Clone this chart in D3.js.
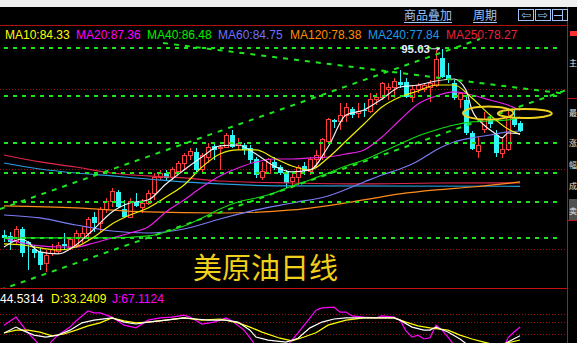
<!DOCTYPE html>
<html>
<head>
<meta charset="utf-8">
<script src="https://cdn.jsdelivr.net/npm/d3@7"></script>
<style>
  body { margin: 0; background: #000; overflow: hidden; }
  text { font-family: "Liberation Sans", Arial, sans-serif; }
</style>
</head>
<body>
<svg id="chart" width="577" height="343"></svg>
<script>
// daily candles, [open, high, low, close]
const candles = [
  [71.75,72.38,70.88,71.38],[71.63,72.13,69.88,70.88],[70.88,72.88,70.63,72.5],[72.5,72.75,69.0,69.5],
  [70.88,70.95,67.38,70.63],[70.0,70.5,68.88,69.5],[69.63,70.13,67.38,68.0],[68.13,69.88,67.13,69.25],
  [69.5,70.63,69.13,69.88],[69.63,70.88,69.38,70.5],[70.63,72.0,69.88,70.38],[70.13,71.5,69.88,71.13],
  [70.38,72.38,70.13,72.0],[71.38,72.75,70.75,72.0],[72.0,74.0,71.13,73.75],[74.0,74.63,72.13,73.25],
  [73.25,75.25,72.13,74.88],[74.88,76.38,74.5,75.88],[75.88,77.63,75.25,77.25],[77.13,77.38,75.13,75.25],
  [75.0,76.13,73.88,74.0],[74.0,76.38,73.88,75.88],[75.88,77.0,75.25,75.38],[75.25,76.25,74.5,75.75],
  [75.63,77.38,75.5,77.0],[77.0,79.5,76.13,78.88],[78.88,79.88,78.63,79.5],[79.5,79.88,78.63,78.88],
  [78.88,80.25,78.63,79.88],[79.63,81.0,79.38,80.75],[80.75,82.0,79.88,81.75],[81.63,82.63,81.13,82.25],
  [82.13,82.63,79.5,79.88],[79.88,82.0,79.5,81.75],[81.38,83.25,80.75,82.63],[82.88,83.38,81.13,82.38],
  [82.56,83.0,79.88,82.75],[82.75,84.5,82.63,84.25],[84.25,84.88,82.63,82.75],[82.88,83.88,82.38,83.25],
  [83.0,83.25,81.75,82.38],[82.63,83.0,80.75,81.13],[81.25,81.5,78.88,79.25],[79.0,80.88,78.63,79.63],
  [79.5,81.38,79.38,81.13],[80.88,81.5,79.88,80.13],[80.25,80.5,79.25,79.5],[79.63,79.88,77.63,78.25],
  [78.38,79.5,77.63,79.0],[79.0,80.5,78.0,80.25],[80.38,80.88,79.25,79.75],[79.75,81.5,79.25,81.25],
  [81.13,82.38,80.25,81.75],[81.5,83.88,81.13,83.63],[83.5,86.38,83.38,86.13],[86.13,86.2,85.13,85.88],
  [85.88,88.25,84.88,86.75],[86.75,88.25,85.88,87.63],[87.5,87.75,86.38,86.75],[87.0,88.25,86.38,87.25],
  [87.38,88.25,86.5,87.25],[87.13,89.5,87.0,88.63],[88.63,89.5,88.0,89.0],[89.0,90.88,88.63,90.63],
  [89.88,90.75,88.63,90.25],[90.13,91.38,88.88,91.0],[90.88,92.38,90.13,90.5],[90.88,91.38,88.88,89.0],
  [89.0,90.5,88.38,89.88],[89.88,90.75,89.5,90.5],[89.88,90.75,89.63,90.5],[90.13,91.13,88.38,90.63],
  [90.5,94.88,90.25,93.63],[93.88,95.03,91.38,91.5],[91.75,93.25,90.75,91.13],[90.75,91.13,88.63,88.88],
  [88.63,89.63,87.63,89.5],[88.63,89.0,84.25,84.5],[84.5,84.75,82.38,82.5],[82.25,84.0,81.38,82.88],
  [84.88,87.13,84.5,86.13],[86.13,86.75,85.13,85.63],[84.25,84.88,81.5,82.0],[81.88,83.88,81.38,82.5],
  [82.38,87.38,82.25,86.38],[86.38,87.38,85.25,85.5],[85.75,86.0,84.63,84.75]
];

// moving averages, [bar index, value]
const ma5 = [[0,70.25],[3,71.25],[6,69.63],[9,69.38],[12,70.5],[15,72.5],[18,74.63],[21,75.75],[24,76.13],[27,78.13],
  [30,79.88],[33,81.5],[36,82.88],[39,83.0],[42,81.88],[45,80.38],[48,79.63],[51,79.88],[54,82.75],[57,86.75],
  [60,87.38],[63,88.75],[66,90.25],[69,90.5],[72,91.0],[75,91.25],[77,89.88],[78,87.38],[80,85.5],[82,84.38],
  [83,83.88],[84,84.5],[86,84.38]];
const ma10 = [[0,70.63],[3,70.5],[6,70.13],[9,69.88],[12,70.25],[15,71.5],[18,73.13],[21,74.25],[24,75.13],[27,76.5],
  [30,78.0],[33,80.25],[36,81.88],[39,82.38],[42,82.38],[45,81.38],[48,80.38],[51,79.88],[54,81.38],[57,83.5],
  [60,85.63],[63,87.75],[66,89.0],[69,89.75],[72,90.5],[75,90.5],[78,88.88],[81,86.75],[84,85.0],[86,84.33]];
const ma20 = [[0,71.38],[3,70.75],[6,70.38],[9,70.25],[12,70.25],[15,70.75],[18,71.38],[21,72.0],[24,72.75],[27,74.63],
  [30,76.13],[33,77.75],[36,79.13],[39,80.13],[42,80.88],[45,81.25],[48,81.25],[51,81.38],[54,81.5],[57,81.88],
  [60,82.38],[63,84.0],[66,86.13],[69,88.13],[72,89.13],[75,89.63],[78,89.25],[81,88.63],[84,88.0],[86,87.36]];
const ma40 = [[0,71.38],[6,71.38],[12,71.38],[18,71.38],[24,71.63],[27,72.13],[30,72.88],[33,73.88],[36,75.0],[39,75.88],
  [42,76.38],[45,77.0],[48,77.88],[51,78.63],[54,79.5],[57,80.38],[60,81.13],[63,82.13],[66,83.13],[69,84.13],
  [72,84.88],[75,85.5],[78,85.88],[81,86.0],[84,86.13],[86,86.48]];
const ma60 = [[0,74.25],[6,73.88],[12,73.0],[18,72.25],[24,72.0],[30,72.5],[36,73.75],[42,74.88],[48,75.75],[54,76.63],
  [60,78.38],[63,79.25],[66,80.0],[69,81.0],[72,82.38],[75,83.38],[78,83.88],[81,84.25],[84,84.63],[86,84.75]];
const ma120 = [[0,75.38],[12,75.13],[24,74.63],[36,74.5],[48,74.88],[60,76.13],[66,76.88],[72,77.38],[78,77.75],[86,78.38]];
const ma240 = [[0,80.75],[6,80.0],[12,79.5],[18,79.13],[24,78.75],[30,78.38],[36,78.13],[48,77.88],[86,77.84]];
const ma250 = [[0,81.75],[6,80.88],[12,80.25],[18,79.5],[24,79.13],[30,78.88],[36,78.5],[48,78.25],[60,78.13],[72,78.25],[86,78.27]];

const maLegend = [
  { name: "MA10", value: "84.33", color: "#ffff00", x: 5 },
  { name: "MA20", value: "87.36", color: "#ff00ff", x: 76 },
  { name: "MA40", value: "86.48", color: "#00f000", x: 147 },
  { name: "MA60", value: "84.75", color: "#7070ff", x: 218 },
  { name: "MA120", value: "78.38", color: "#ff8c00", x: 290 },
  { name: "MA240", value: "77.84", color: "#1e9be6", x: 368 },
  { name: "MA250", value: "78.27", color: "#e8203c", x: 446 }
];

// KDJ, [bar index, value]
const kLine = [[0,51.6],[2,67],[3,59],[5,46],[7,41],[9,46],[11,59],[13,78],[15,85],[18,91],[20,80],[22,75],[24,80],[27,85],
  [30,91],[32,88],[34,85],[37,85],[39,80],[41,59],[42,41],[44,33],[47,28],[49,38],[51,65],[53,80],[55,88],[57,91],
  [60,91],[63,91],[65,91],[66,85],[68,67],[70,59],[71,59],[72,67],[74,54],[76,36],[78,12],[80,7],[82,7],[84,28],[86,44.53]];
const dLine = [[0,51.6],[2,59],[4,59],[6,54],[8,44],[10,49],[12,59],[14,70],[16,78],[18,91],[20,83],[22,78],[24,80],[27,85],
  [30,91],[33,85],[36,88],[39,78],[41,67],[43,54],[46,38],[48,31],[50,41],[52,52],[54,72],[57,85],[60,91],[63,91],
  [65,91],[67,80],[69,70],[71,65],[74,59],[76,46],[78,36],[80,28],[82,20],[84,26],[86,33.24]];
const jLine = [[0,72],[2,93],[4,52],[5,36],[6,18],[7,12],[8,31],[9,46],[11,67],[12,83],[13,96],[14,109],[15,104],[16,104],
  [18,93],[20,72],[22,65],[24,85],[26,91],[28,93],[30,98],[31,93],[33,75],[35,80],[37,91],[38,83],[40,59],[41,39],
  [42,18],[43,2],[45,-8],[47,15],[49,52],[51,91],[52,111],[53,117],[55,119],[56,106],[57,106],[58,96],[60,93],
  [62,91],[63,96],[65,93],[66,85],[67,57],[68,41],[69,46],[70,36],[71,39],[72,72],[73,59],[74,41],[75,20],[76,7],
  [77,-32],[78,-50],[79,-45],[80,-19],[81,-8],[82,-14],[83,2],[84,39],[85,54],[86,67.11]];
const kdjLegend = [
  { label: "44.5314", color: "#ffffff", x: 0 },
  { label: "D:33.2409", color: "#ffff00", x: 51 },
  { label: "J:67.1124", color: "#ff00ff", x: 112 }
];

// side column labels
const sideLabels = ["主", "最", "涨", "幅", "成", "卖"];
const sideY = [66, 116, 146, 168, 189, 214];

// levels and hand drawn lines (price units)
const redLevels = [90, 80, 70];
const greenLevels = [95.13, 89.13, 83.25, 79.5, 75.88, 71.38];
const trendLines = [
  [[-0.67, 75.0], [79.3, 96.25]],
  [[-0.67, 64.88], [93.8, 89.88]],
  [[26.5, 95.75], [93.8, 89.38]]
];
const circles = [
  { k: 80.7, p: 87.0, rk: 4.2, rp: 0.82 },
  { k: 86.8, p: 86.94, rk: 4.5, rp: 0.56 }
];

const svg = d3.select("#chart");
const W = 577, H = 343, plotR = 567;

const x = d3.scaleLinear().domain([0, 86]).range([4, 520]);
const y = d3.scaleLinear().domain([70, 90]).range([249, 89]);
const yk = d3.scaleLinear().domain([0, 100]).range([352.8, 314.4]);

svg.append("rect").attr("width", W).attr("height", H).attr("fill", "#000");
svg.append("rect").attr("width", W).attr("height", 7).attr("fill", "#f0f0f0");

const defs = svg.append("defs");
defs.append("clipPath").attr("id", "mainClip")
  .append("rect").attr("x", 0).attr("y", 26).attr("width", plotR).attr("height", 262);
defs.append("clipPath").attr("id", "kdjClip")
  .append("rect").attr("x", 0).attr("y", 290).attr("width", plotR).attr("height", 53);

// frame
svg.append("line").attr("x1", 0).attr("x2", plotR + 1).attr("y1", 25.5).attr("y2", 25.5)
  .attr("stroke", "#b01010");
svg.append("line").attr("x1", 0).attr("x2", plotR + 1).attr("y1", 288.5).attr("y2", 288.5)
  .attr("stroke", "#c01010");
svg.append("line").attr("x1", plotR + 0.5).attr("x2", plotR + 0.5).attr("y1", 7).attr("y2", H)
  .attr("stroke", "#c01010");

// top menu
const menuColor = "#9fc4f5";
[["商品叠加", 404], ["周期", 473]].forEach(([t, px]) => {
  svg.append("text").attr("x", px).attr("y", 20)
    .attr("fill", menuColor).attr("font-size", 12)
    .style("font-family", "'Noto Sans CJK SC', sans-serif")
    .text(t);
  const w = t.length * 12;
  svg.append("line").attr("x1", px).attr("x2", px + w).attr("y1", 22.5).attr("y2", 22.5)
    .attr("stroke", menuColor);
});
[518, 535, 552].forEach((bx, i) => {
  svg.append("rect").attr("x", bx + 0.5).attr("y", 9.5).attr("width", 15).attr("height", 11)
    .attr("fill", "none").attr("stroke", menuColor);
  if (i < 2) {
    svg.append("text").attr("x", bx + 8).attr("y", 19).attr("text-anchor", "middle")
      .attr("fill", menuColor).attr("font-size", 12).style("font-family", "'DejaVu Sans'")
      .text(i === 0 ? "⇦" : "⇨");
  } else {
    svg.append("line").attr("x1", bx + 2).attr("x2", bx + 10).attr("y1", 15.5).attr("y2", 15.5).attr("stroke", menuColor);
    svg.append("line").attr("x1", bx + 10.5).attr("x2", bx + 10.5).attr("y1", 10).attr("y2", 20).attr("stroke", menuColor);
  }
});

// right side column
svg.append("rect").attr("x", 570).attr("y", 31).attr("width", 7).attr("height", 5).attr("fill", "#ff3030");
svg.append("line").attr("x1", 568).attr("x2", W).attr("y1", 98.5).attr("y2", 98.5).attr("stroke", "#c01010");
svg.append("rect").attr("x", 569).attr("y", 199).attr("width", 8).attr("height", 21).attr("fill", "#505050");
svg.append("line").attr("x1", 568).attr("x2", W).attr("y1", 220.5).attr("y2", 220.5).attr("stroke", "#c01010");
sideLabels.forEach((t, i) => {
  svg.append("text").attr("x", 569).attr("y", sideY[i]).attr("fill", "#e8e8e8").attr("font-size", 8)
    .style("font-family", "'Noto Sans CJK SC', sans-serif").text(t);
});

// MA legend
const legend = svg.append("g").attr("font-size", 12);
maLegend.forEach(d => {
  legend.append("text").attr("x", d.x).attr("y", 39).attr("fill", d.color)
    .text(d.name + ":" + d.value);
});

// main chart
const main = svg.append("g").attr("clip-path", "url(#mainClip)");

main.selectAll(".red-level").data(redLevels).enter().append("line")
  .attr("x1", 0).attr("x2", plotR)
  .attr("y1", d => Math.round(y(d)) + 0.5).attr("y2", d => Math.round(y(d)) + 0.5)
  .attr("stroke", "#a01010").attr("stroke-dasharray", "1,2");

// candles
const upColor = "#ff3c3c", downColor = "#2ef6f6";
const bars = main.append("g").attr("shape-rendering", "crispEdges");
candles.forEach((c, i) => {
  const [o, h, l, cl] = c;
  const cx = Math.round(x(i));
  const up = cl >= o;
  const col = up ? upColor : downColor;
  const top = y(Math.max(o, cl)), bot = y(Math.min(o, cl));
  bars.append("line").attr("x1", cx + 0.5).attr("x2", cx + 0.5)
    .attr("y1", y(h)).attr("y2", up ? top : bot).attr("stroke", col);
  bars.append("line").attr("x1", cx + 0.5).attr("x2", cx + 0.5)
    .attr("y1", up ? bot : top).attr("y2", y(l)).attr("stroke", col);
  if (up) {
    bars.append("rect").attr("x", cx - 1.5).attr("y", top)
      .attr("width", 4).attr("height", Math.max(bot - top, 1))
      .attr("fill", "#000").attr("stroke", col);
  } else {
    bars.append("rect").attr("x", cx - 2).attr("y", top)
      .attr("width", 5).attr("height", Math.max(bot - top, 1))
      .attr("fill", col);
  }
});

// moving averages
const maLine = d3.line().x(d => x(d[0])).y(d => y(d[1])).curve(d3.curveMonotoneX);
[[ma250, "#e0284a"], [ma240, "#2a9ee0"], [ma120, "#ff8c1a"], [ma60, "#7b7bf5"],
 [ma40, "#14d814"], [ma20, "#e820e8"], [ma10, "#f0f000"], [ma5, "#f0f0f0"]].forEach(([data, col]) => {
  main.append("path").datum(data).attr("d", maLine)
    .attr("fill", "none").attr("stroke", col).attr("stroke-width", 1.2);
});

// hand drawn green dashes
const green = "#1ee61e";
main.selectAll(".green-level").data(greenLevels).enter().append("line")
  .attr("x1", 4).attr("x2", 560)
  .attr("y1", d => y(d)).attr("y2", d => y(d))
  .attr("stroke", green).attr("stroke-width", 2).attr("stroke-dasharray", "4,5");
trendLines.forEach(seg => {
  main.append("line")
    .attr("x1", x(seg[0][0])).attr("y1", y(seg[0][1]))
    .attr("x2", x(seg[1][0])).attr("y2", y(seg[1][1]))
    .attr("stroke", green).attr("stroke-width", 2).attr("stroke-dasharray", "5,6");
});

circles.forEach(c => {
  main.append("ellipse")
    .attr("cx", x(c.k)).attr("cy", y(c.p))
    .attr("rx", x(c.k + c.rk) - x(c.k)).attr("ry", y(c.p - c.rp) - y(c.p))
    .attr("fill", "none").attr("stroke", "#f0d020").attr("stroke-width", 2);
});

// peak label
const peakIdx = d3.maxIndex(candles, d => d[1]);
const peak = candles[peakIdx][1];
const px = x(peakIdx), py = y(peak);
main.append("line").attr("x1", px - 11).attr("x2", px - 2).attr("y1", py).attr("y2", py)
  .attr("stroke", "#e8d8f0");
main.append("path").attr("d", `M${px - 2},${py} l-3,-2 l0,4 z`).attr("fill", "#e8d8f0");
main.append("text").attr("x", px - 12).attr("y", py + 4).attr("text-anchor", "end")
  .attr("fill", "#e6ecff").attr("font-size", 11.5).attr("font-weight", "bold")
  .text(peak.toFixed(2));

// title
svg.append("text").attr("x", 193).attr("y", 279)
  .attr("fill", "#f0d018").attr("font-size", 29)
  .style("font-family", "'Noto Sans CJK SC', sans-serif")
  .text("美原油日线");

// KDJ panel
const kdj = svg.append("g").attr("clip-path", "url(#kdjClip)");
[100, 80, 50].forEach(v => {
  kdj.append("line").attr("x1", 0).attr("x2", plotR)
    .attr("y1", Math.round(yk(v)) + 0.5).attr("y2", Math.round(yk(v)) + 0.5)
    .attr("stroke", "#a01010").attr("stroke-dasharray", "1,2");
});
const kdjPath = d3.line().x(d => x(d[0])).y(d => yk(d[1]));
[[jLine, "#ff00ff"], [dLine, "#ffff00"], [kLine, "#ffffff"]].forEach(([data, col]) => {
  kdj.append("path").datum(data).attr("d", kdjPath)
    .attr("fill", "none").attr("stroke", col).attr("stroke-width", 1.2);
});
kdjLegend.forEach(d => {
  svg.append("text").attr("x", d.x).attr("y", 303).attr("fill", d.color)
    .attr("font-size", 12).text(d.label);
});
</script>
</body>
</html>
